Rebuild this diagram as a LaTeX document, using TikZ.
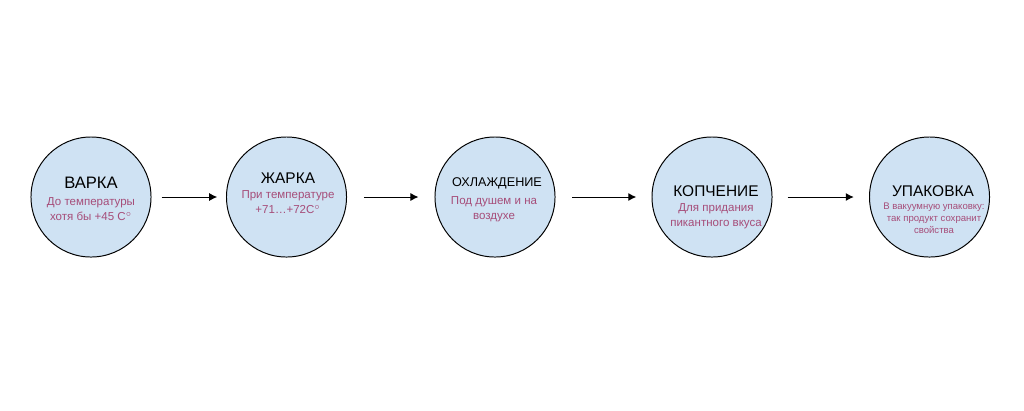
\documentclass[tikz,border=0pt]{standalone}
\usepackage{fontspec}
\setmainfont{Liberation Sans}
\usetikzlibrary{arrows.meta}
\definecolor{stagefill}{HTML}{CFE2F3}
\definecolor{notetext}{HTML}{A64D79}

\begin{document}
\begin{tikzpicture}[x=0.025cm, y=-0.025cm,
    stage/.style={draw, circle, minimum size=3cm, fill=stagefill, line width=0.7pt},
    title/.style={inner sep=0pt, font=\fontsize{11}{13}\selectfont},
    note/.style={inner sep=0pt, align=center, text=notetext, font=\fontsize{8.2}{10.7}\selectfont}]
    \useasboundingbox (0,0) rectangle (1024,410);

    % Stage circles
    \foreach \n/\x in {1/91, 2/286.5, 3/495, 4/712, 5/929.5}
        \node[stage] (S-\n) at (\x, 197) {};

    % Stage names and notes
    \node[title, font=\fontsize{11.8}{14}\selectfont] (T-1) at (91, 183) {ВАРКА};
    \node[note] (N-1) at (91, 209.5) {До температуры\\хотя бы +45 C$^{\circ}$};

    \node[title] (T-2) at (288, 178) {ЖАРКА};
    \node[note] (N-2) at (288, 202) {При температуре\\+71…+72C$^{\circ}$};

    \node[title, font=\fontsize{9}{11}\selectfont] (T-3) at (497, 183) {ОХЛАЖДЕНИЕ};
    \node[note] (N-3) at (494, 209.5) {Под душем и на\\воздухе};

    \node[title] (T-4) at (716, 191) {КОПЧЕНИЕ};
    \node[note] (N-4) at (716, 216.5) {Для придания\\пикантного вкуса};

    \node[title] (T-5) at (933, 191) {УПАКОВКА};
    \node[note, font=\fontsize{6.8}{8.6}\selectfont] (N-5) at (934, 218) {В вакуумную упаковку:\\так продукт сохранит\\свойства};

    % Arrows between stages
    \foreach \a/\b/\s/\e in {1/2/0.25cm/0.22cm, 2/3/0.42cm/0.4cm, 3/4/0.42cm/0.38cm, 4/5/0.38cm/0.38cm}
        \draw[-{Latex[length=2mm, width=2mm]}, line width=0.7pt, shorten <=\s, shorten >=\e] (S-\a) -- (S-\b);
\end{tikzpicture}
\end{document}
